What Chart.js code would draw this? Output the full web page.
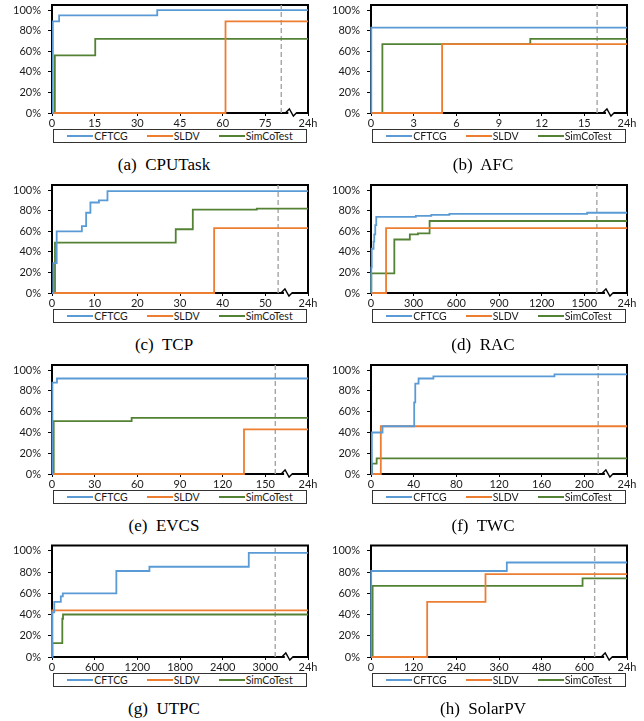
<!DOCTYPE html>
<html><head><meta charset="utf-8">
<script src="https://cdn.jsdelivr.net/npm/chart.js@4.4.1/dist/chart.umd.min.js"></script>
<style>
html,body{margin:0;padding:0;background:#fff;}
#fig{position:relative;width:644px;height:721px;overflow:hidden;background:#fff;}
.cv{position:absolute;}
.legend{position:absolute;box-sizing:border-box;border:1px solid #333;display:flex;justify-content:center;align-items:center;font-family:Lato,'Liberation Sans',sans-serif;font-size:10.5px;color:#1a1a1a;gap:19px;line-height:1;}
.item{display:flex;align-items:center;white-space:nowrap;}
.swatch{display:inline-block;width:26px;height:0;border-top:2px solid;margin-right:1px;}
.cap{position:absolute;font-family:'Liberation Serif',serif;font-size:17px;color:#000;white-space:pre;transform:translate(-50%,-50%);}
</style></head><body><div id="fig"></div>
<script>
// ---------------- data ----------------
const seriesNames = ["CFTCG", "SLDV", "SimCoTest"];
const seriesColors = ["#5B9BD5", "#ED7D31", "#548235"];
const panelLetters = ["a", "b", "c", "d", "e", "f", "g", "h"];
const panelNames = ["CPUTask", "AFC", "TCP", "RAC", "EVCS", "TWC", "UTPC", "SolarPV"];
const yTicks = [0, 20, 40, 60, 80, 100];
const Y_MAX = 105;
const endLabel = "24h";

// x tick values (the last one is labelled "24h")
const CPUTask_xTicks = [0, 15, 30, 45, 60, 75, 90];
const AFC_xTicks = [0, 3, 6, 9, 12, 15, 18];
const TCP_xTicks = [0, 10, 20, 30, 40, 50, 60];
const RAC_xTicks = [0, 300, 600, 900, 1200, 1500, 1800];
const EVCS_xTicks = [0, 30, 60, 90, 120, 150, 180];
const TWC_xTicks = [0, 40, 80, 120, 160, 200, 240];
const UTPC_xTicks = [0, 600, 1200, 1800, 2400, 3000, 3600];
const SolarPV_xTicks = [0, 120, 240, 360, 480, 600, 720];

// dashed reference line and axis-break position, per panel
const cutoffLines = [80.6, 15.9, 53, 1588, 157, 213, 3139, 629];
const axisBreaks = [84.5, 16.8, 55.3, 1673, 166, 223, 3330, 667];

// coverage (%) step series: [time, coverage]
const CPUTask_CFTCG = [[0,0],[0.3,89],[2.5,95],[37,100],[90,100]];
const CPUTask_SLDV = [[0,0],[61,89],[90,89]];
const CPUTask_SimCoTest = [[0,0],[1,56],[15.2,72],[90,72]];

const AFC_CFTCG = [[0,0],[0.02,83],[18,83]];
const AFC_SLDV = [[0,0],[5,67],[18,67]];
const AFC_SimCoTest = [[0,0],[0.8,67],[11.2,72],[18,72]];

const TCP_CFTCG = [[0,0],[0.3,29],[1.1,60],[7,65],[8,78],[9,88],[11,90],[13,99],[60,99]];
const TCP_SLDV = [[0,0],[38,63],[60,63]];
const TCP_SimCoTest = [[0,0],[0.7,49],[29,62],[33,81],[48,82],[60,82]];

const RAC_CFTCG = [[0,0],[2,25],[5,43],[18,50],[23,57],[30,66],[37,74],[315,75],[424,76],[551,77],[1520,78],[1800,78]];
const RAC_SLDV = [[0,0],[106,63],[1800,63]];
const RAC_SimCoTest = [[0,0],[2,19],[164,52],[273,57],[330,58],[412,70],[1800,70]];

const EVCS_CFTCG = [[0,0],[0.3,88],[3.5,92],[180,92]];
const EVCS_SLDV = [[0,0],[135,43],[180,43]];
const EVCS_SimCoTest = [[0,0],[1.2,51],[56,54],[180,54]];

const TWC_CFTCG = [[0,0],[0.8,40],[10.8,46],[40.5,69],[41.5,87],[44.6,92],[58.5,94],[172,96],[240,96]];
const TWC_SLDV = [[0,0],[9.2,46],[240,46]];
const TWC_SimCoTest = [[0,0],[1,10],[5.3,15],[240,15]];

const UTPC_CFTCG = [[0,0],[5,42],[32,52],[124,57],[152,60],[905,81],[1370,85],[2767,98],[3600,98]];
const UTPC_SLDV = [[0,0],[3,44],[3600,44]];
const UTPC_SimCoTest = [[0,0],[5,13],[145,36],[155,40],[3600,40]];

const SolarPV_CFTCG = [[0,0],[0.5,81],[382,89],[720,89]];
const SolarPV_SLDV = [[0,0],[158,52],[322,78],[720,78]];
const SolarPV_SimCoTest = [[0,0],[4.6,67],[595,74],[720,74]];

const panelTicks = [CPUTask_xTicks, AFC_xTicks, TCP_xTicks, RAC_xTicks, EVCS_xTicks, TWC_xTicks, UTPC_xTicks, SolarPV_xTicks];
const panelSeries = [
  [CPUTask_CFTCG, CPUTask_SLDV, CPUTask_SimCoTest],
  [AFC_CFTCG, AFC_SLDV, AFC_SimCoTest],
  [TCP_CFTCG, TCP_SLDV, TCP_SimCoTest],
  [RAC_CFTCG, RAC_SLDV, RAC_SimCoTest],
  [EVCS_CFTCG, EVCS_SLDV, EVCS_SimCoTest],
  [TWC_CFTCG, TWC_SLDV, TWC_SimCoTest],
  [UTPC_CFTCG, UTPC_SLDV, UTPC_SimCoTest],
  [SolarPV_CFTCG, SolarPV_SLDV, SolarPV_SimCoTest]
];

// ---------------- layout ----------------
const colOffsets = [0, 319];
const rowOffsets = [0, 180, 360, 540];
const rowPlotTop = [5, 5, 5, 5.5];
const rowPlotBottom = [113, 113, 114, 117];
const CANVAS_W = 322, AXIS_W = 52, RIGHT_PAD = 14, XAXIS_H = 16;
const tickFont = {family: "Lato, 'Liberation Sans', sans-serif", size: 11};

const framePlugin = {
  id: 'frame',
  beforeDatasetsDraw(chart) {
    const {ctx, chartArea: a} = chart;
    ctx.save();
    ctx.strokeStyle = '#000';
    ctx.lineWidth = 2;
    ctx.strokeRect(a.left, a.top, a.right - a.left, a.bottom - a.top);
    ctx.restore();
  },
  afterDraw(chart, args, opts) {
    const {ctx, chartArea: a} = chart;
    const bx = chart.scales.x.getPixelForValue(opts.breakAt);
    const y = a.bottom;
    ctx.save();
    ctx.fillStyle = '#fff';
    ctx.fillRect(bx - 4, y - 1.5, 8, 3);
    ctx.strokeStyle = '#000';
    ctx.lineWidth = 1.4;
    ctx.lineJoin = 'miter';
    ctx.beginPath();
    ctx.moveTo(bx - 7, y);
    ctx.lineTo(bx - 3, y - 4);
    ctx.lineTo(bx + 1, y + 3);
    ctx.lineTo(bx + 4, y);
    ctx.lineTo(bx + 7, y);
    ctx.stroke();
    ctx.restore();
  }
};

const fig = document.getElementById('fig');

panelNames.forEach((name, idx) => {
  const col = idx % 2, row = Math.floor(idx / 2);
  const x0 = colOffsets[col], y0 = rowOffsets[row];
  const plotTop = rowPlotTop[row], plotBottom = rowPlotBottom[row];
  const canvasH = plotBottom + XAXIS_H;
  const xt = panelTicks[idx];
  const xMax = xt[xt.length - 1];

  const wrap = document.createElement('div');
  wrap.className = 'cv';
  wrap.style.left = x0 + 'px';
  wrap.style.top = y0 + 'px';
  wrap.style.width = CANVAS_W + 'px';
  wrap.style.height = canvasH + 'px';
  const cv = document.createElement('canvas');
  cv.width = CANVAS_W; cv.height = canvasH;
  cv.style.width = CANVAS_W + 'px'; cv.style.height = canvasH + 'px';
  wrap.appendChild(cv);
  fig.appendChild(wrap);

  const datasets = panelSeries[idx].map((s, i) => ({
    label: seriesNames[i],
    data: s.map(([x, y]) => ({x, y})),
    borderColor: seriesColors[i],
    backgroundColor: seriesColors[i],
    borderWidth: 1.8,
    stepped: true,
    pointRadius: 0,
    fill: false,
    clip: 3
  }));
  datasets.push({
    label: 'cutoff',
    data: [{x: cutoffLines[idx], y: 0}, {x: cutoffLines[idx], y: Y_MAX}],
    borderColor: '#A6A6A6',
    borderDash: [5, 3],
    borderWidth: 1.4,
    pointRadius: 0,
    fill: false
  });

  new Chart(cv, {
    type: 'line',
    data: {datasets},
    options: {
      responsive: false,
      devicePixelRatio: 1,
      animation: false,
      events: [],
      layout: {padding: {left: 0, right: RIGHT_PAD, top: plotTop, bottom: 0}},
      plugins: {legend: {display: false}, tooltip: {enabled: false}, frame: {breakAt: axisBreaks[idx]}},
      scales: {
        x: {
          type: 'linear', min: 0, max: xMax,
          afterBuildTicks: s => { s.ticks = xt.map(v => ({value: v})); },
          afterFit: s => { s.height = XAXIS_H; s.paddingLeft = 0; s.paddingRight = 0; },
          ticks: {
            autoSkip: false, maxRotation: 0, padding: 1,
            font: tickFont, color: '#1a1a1a',
            callback: v => (v === xMax ? endLabel : String(v))
          },
          grid: {display: true, drawOnChartArea: false, drawTicks: true, tickLength: 3, color: '#000', lineWidth: 1},
          border: {display: false}
        },
        y: {
          type: 'linear', min: 0, max: Y_MAX,
          afterBuildTicks: s => { s.ticks = yTicks.map(v => ({value: v})); },
          afterFit: s => { s.width = AXIS_W; s.paddingTop = 0; s.paddingBottom = 0; },
          ticks: {
            padding: 7, font: tickFont, color: '#1a1a1a',
            callback: v => v + '%'
          },
          grid: {display: true, drawOnChartArea: false, drawTicks: true, tickLength: 4, color: '#000', lineWidth: 1},
          border: {display: false}
        }
      }
    },
    plugins: [framePlugin]
  });

  const lg = document.createElement('div');
  lg.className = 'legend';
  lg.style.left = (x0 + 53) + 'px';
  lg.style.top = (y0 + plotBottom + 16) + 'px';
  lg.style.width = '254px';
  lg.style.height = '14px';
  seriesNames.forEach((n, i) => {
    const it = document.createElement('span');
    it.className = 'item';
    const sw = document.createElement('span');
    sw.className = 'swatch';
    sw.style.borderTopColor = seriesColors[i];
    it.appendChild(sw);
    it.appendChild(document.createTextNode(n));
    lg.appendChild(it);
  });
  fig.appendChild(lg);

  const cap = document.createElement('div');
  cap.className = 'cap';
  cap.style.left = (x0 + 164) + 'px';
  cap.style.top = (y0 + plotBottom + 52) + 'px';
  cap.textContent = '(' + panelLetters[idx] + ')  ' + name;
  fig.appendChild(cap);
});
</script>
</body></html>
